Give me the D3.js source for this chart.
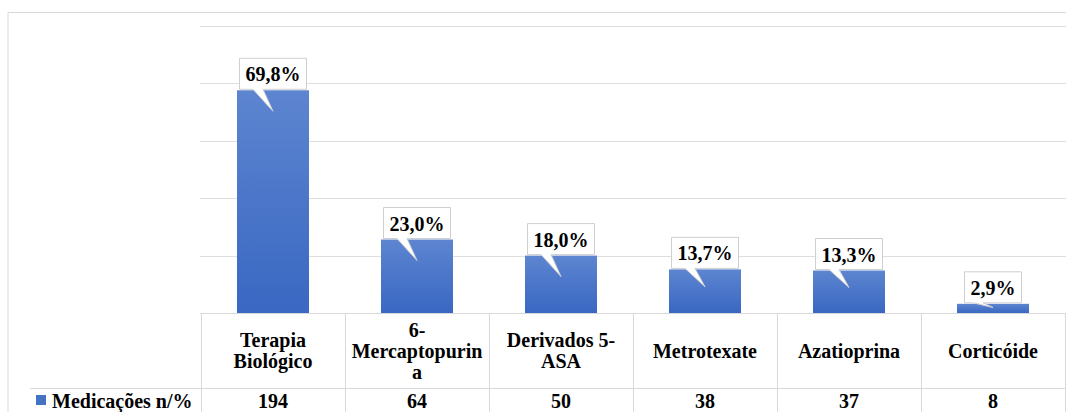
<!DOCTYPE html>
<html>
<head>
<meta charset="utf-8">
<script src="https://cdn.jsdelivr.net/npm/d3@7"></script>
<style>
  html, body { margin: 0; padding: 0; background: #fff; }
  svg { display: block; }
</style>
</head>
<body>
<div id="chart"></div>
<script>
// ---- data ----
const categories = ["Terapia Biológico", "6-Mercaptopurina", "Derivados 5-ASA", "Metrotexate", "Azatioprina", "Corticóide"];
const categoryLines = [["Terapia", "Biológico"], ["6-", "Mercaptopurin", "a"], ["Derivados 5-", "ASA"], ["Metrotexate"], ["Azatioprina"], ["Corticóide"]];
const counts = [194, 64, 50, 38, 37, 8];
const percents = [69.8, 23.0, 18.0, 13.7, 13.3, 2.9];
const seriesName = "Medicações n/%";
const yTicks = [0, 50, 100, 150, 200, 250];

// ---- layout ----
const W = 1066, H = 412;
const plotLeft = 201, plotRight = 1065, plotTop = 26, baseY = 313;
const rowY = 388;
const FONT = "Liberation Serif";

const svg = d3.select("#chart").append("svg").attr("width", W).attr("height", H)
  .style("font-family", FONT).style("font-weight", "bold");

function styleText(sel) {
  return sel.style("font-family", FONT).style("font-weight", "bold").style("font-size", "20px");
}

const defs = svg.append("defs");
const grad = defs.append("linearGradient").attr("id", "barGrad").attr("x1", 0).attr("y1", 0).attr("x2", 0).attr("y2", 1);
grad.append("stop").attr("offset", "0%").attr("stop-color", "#5d85d0");
grad.append("stop").attr("offset", "100%").attr("stop-color", "#3967c2");

// outer chart border
svg.append("path").attr("d", `M8,${H} V12.5 H${W}`).attr("fill", "none").attr("stroke", "#d9d9d9").attr("stroke-width", 1);

const x = d3.scaleBand().domain(categories).range([plotLeft, plotRight]).paddingInner(0.5).paddingOuter(0.25);
const col = d3.scaleBand().domain(categories).range([plotLeft, plotRight]).padding(0);
const y = d3.scaleLinear().domain([0, 250]).range([baseY, plotTop]);

// gridlines
svg.append("g").selectAll("line").data(yTicks).join("line")
  .attr("x1", plotLeft - 1).attr("x2", W)
  .attr("y1", d => Math.round(y(d)) + 0.5).attr("y2", d => Math.round(y(d)) + 0.5)
  .attr("stroke", "#dedede").attr("stroke-width", 1);

// bars
svg.append("g").selectAll("rect").data(categories).join("rect")
  .attr("x", d => x(d))
  .attr("y", (d, i) => y(counts[i]))
  .attr("width", x.bandwidth())
  .attr("height", (d, i) => baseY - y(counts[i]))
  .attr("fill", "url(#barGrad)");

// table lines
const tl = svg.append("g").attr("stroke", "#d9d9d9").attr("stroke-width", 1).attr("fill", "none");
tl.append("line").attr("x1", plotLeft).attr("x2", W).attr("y1", baseY + 0.5).attr("y2", baseY + 0.5);
tl.append("line").attr("x1", 30).attr("x2", W).attr("y1", rowY + 0.5).attr("y2", rowY + 0.5);
const bounds = categories.map(c => col(c)).concat([plotRight]);
tl.selectAll("line.v").data(bounds).join("line").attr("class", "v")
  .attr("x1", d => Math.round(d) + 0.5).attr("x2", d => Math.round(d) + 0.5)
  .attr("y1", baseY).attr("y2", H);

// category labels
const lh = 21, cellMid = (baseY + rowY) / 2;
categories.forEach((c, i) => {
  const lines = categoryLines[i];
  const cx = col(c) + col.bandwidth() / 2;
  const t = styleText(svg.append("text").attr("text-anchor", "middle"));
  lines.forEach((ln, k) => {
    const by = cellMid + (k - (lines.length - 1) / 2) * lh + 7;
    t.append("tspan").attr("x", cx).attr("y", by).text(ln);
  });
});

// data row
styleText(svg.append("g").selectAll("text").data(categories).join("text")
  .attr("x", d => col(d) + col.bandwidth() / 2)
  .attr("y", 408)
  .attr("text-anchor", "middle"))
  .text((d, i) => counts[i]);

// legend
svg.append("rect").attr("x", 36).attr("y", 395).attr("width", 10).attr("height", 10).attr("fill", "#4472c4");
styleText(svg.append("text").attr("x", 52).attr("y", 408)).text(seriesName);

// callout data labels
const fmt = v => v.toFixed(1).replace(".", ",") + "%";
const em = { ",": 0.25, "%": 1.0 };
const textW = s => 20 * [...s].reduce((a, ch) => a + (em[ch] !== undefined ? em[ch] : 0.5), 0);
categories.forEach((c, i) => {
  const cx = x(c) + x.bandwidth() / 2;
  const top = y(counts[i]);
  const barH = baseY - top;
  const label = fmt(percents[i]);
  const bw = textW(label) + 12, bh = 31;
  const bx0 = cx - bw / 2, bx1 = cx + bw / 2;
  const by1 = top - 1, by0 = by1 - bh;
  const tipY = top + Math.min(21, barH * 0.4);
  const p = `M${bx0},${by0} H${bx1} V${by1} H${cx - 10} L${cx},${tipY} L${cx - 20},${by1} H${bx0} Z`;
  const g = svg.append("g");
  g.append("path").attr("d", p).attr("fill", "#fff").attr("stroke", "#cfcfcf").attr("stroke-width", 1);
  styleText(g.append("text").attr("x", cx).attr("y", by0 + 23).attr("text-anchor", "middle")).text(label);
});
</script>
</body>
</html>
